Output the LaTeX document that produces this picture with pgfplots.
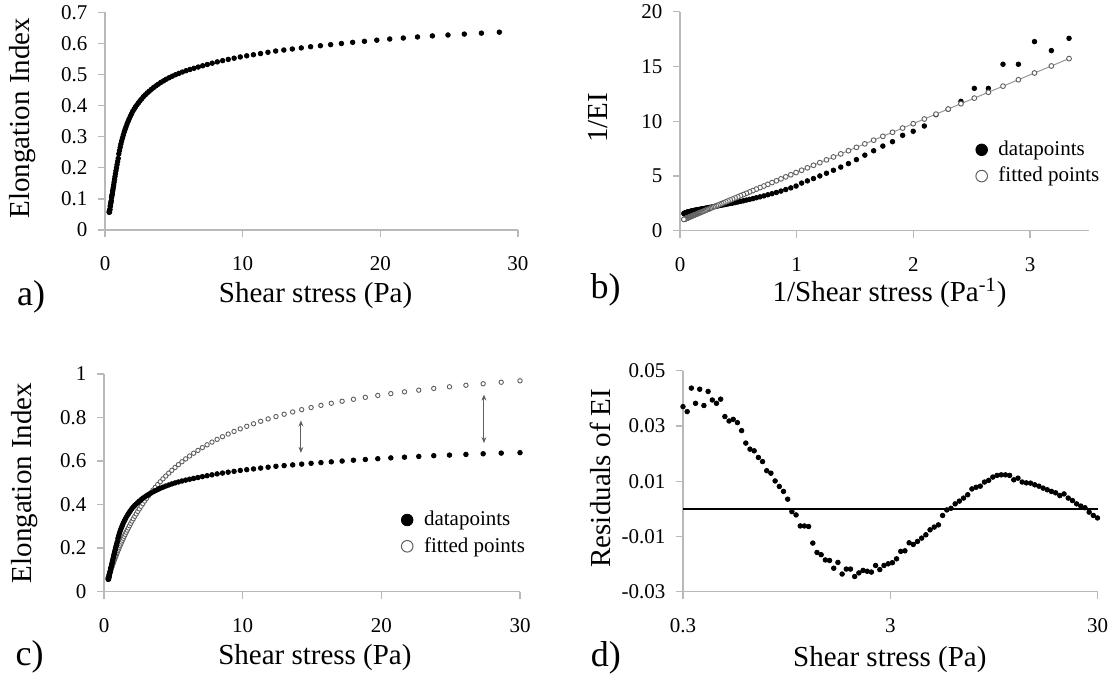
\documentclass[border=0pt]{standalone}
\usepackage{fontspec}
\setmainfont{Liberation Serif}
\usepackage{pgfplots}
\pgfplotsset{compat=1.18}
\usepackage{pgfplotstable}
\usetikzlibrary{arrows.meta}

\definecolor{axisgray}{RGB}{185,185,185}
\definecolor{fitgray}{RGB}{95,95,95}
\definecolor{linegray}{RGB}{150,150,150}

% t = shear stress, it = 1/t, ei = measured EI, iei = 1/EI,
% fit = fitted EI, ifit = 1/fitted EI, res = residuals of EI
\pgfplotstableread{
t it ei iei fit ifit res
0.3000 3.3333 0.0569 17.57 0.0636 15.718 0.0370
0.3143 3.1818 0.0608 16.45 0.0665 15.044 0.0352
0.3292 3.0373 0.0579 17.27 0.0694 14.401 0.0437
0.3449 2.8993 0.0658 15.20 0.0725 13.787 0.0382
0.3613 2.7675 0.0658 15.20 0.0758 13.200 0.0433
0.3785 2.6418 0.0769 13.00 0.0791 12.641 0.0374
0.3966 2.5217 0.0769 13.00 0.0826 12.107 0.0425
0.4154 2.4071 0.0847 11.81 0.0862 11.597 0.0394
0.4352 2.2977 0.0901 11.10 0.0900 11.110 0.0382
0.4559 2.1932 0.0943 10.60 0.0939 10.645 0.0397
0.4777 2.0934 0.1046 9.56 0.0980 10.201 0.0334
0.5004 1.9983 0.1101 9.08 0.1023 9.777 0.0318
0.5242 1.9075 0.1148 8.71 0.1067 9.373 0.0324
0.5492 1.8208 0.1230 8.13 0.1113 8.988 0.0312
0.5754 1.7380 0.1294 7.73 0.1160 8.619 0.0283
0.6028 1.6590 0.1370 7.30 0.1210 8.268 0.0238
0.6315 1.5836 0.1450 6.90 0.1261 7.932 0.0216
0.6615 1.5117 0.1540 6.49 0.1314 7.612 0.0210
0.6930 1.4430 0.1630 6.13 0.1369 7.306 0.0186
0.7260 1.3774 0.1720 5.81 0.1426 7.014 0.0171
0.7606 1.3148 0.1810 5.52 0.1485 6.736 0.0138
0.7968 1.2550 0.1905 5.25 0.1546 6.470 0.0129
0.8348 1.1979 0.2000 5.00 0.1609 6.216 0.0101
0.8745 1.1435 0.2100 4.76 0.1674 5.974 0.0081
0.9162 1.0915 0.2200 4.55 0.1742 5.742 0.0063
0.9598 1.0419 0.2300 4.35 0.1811 5.521 0.0035
1.0055 0.9945 0.2450 4.08 0.1883 5.311 -0.0010
1.0534 0.9493 0.2555 3.91 0.1957 5.109 -0.0022
1.1036 0.9061 0.2660 3.76 0.2034 4.917 -0.0062
1.1561 0.8650 0.2765 3.62 0.2112 4.734 -0.0062
1.2112 0.8256 0.2865 3.49 0.2193 4.559 -0.0064
1.2689 0.7881 0.2957 3.38 0.2277 4.392 -0.0124
1.3293 0.7523 0.3050 3.28 0.2362 4.233 -0.0158
1.3926 0.7181 0.3149 3.18 0.2450 4.081 -0.0166
1.4589 0.6854 0.3234 3.09 0.2541 3.935 -0.0185
1.5284 0.6543 0.3320 3.01 0.2634 3.797 -0.0187
1.6012 0.6245 0.3411 2.93 0.2729 3.664 -0.0215
1.6774 0.5962 0.3491 2.86 0.2826 3.538 -0.0194
1.7573 0.5691 0.3575 2.80 0.2926 3.417 -0.0236
1.8410 0.5432 0.3657 2.73 0.3028 3.302 -0.0218
1.9286 0.5185 0.3736 2.68 0.3133 3.192 -0.0218
2.0205 0.4949 0.3818 2.62 0.3239 3.087 -0.0245
2.1167 0.4724 0.3888 2.57 0.3348 2.987 -0.0232
2.2175 0.4510 0.3961 2.52 0.3458 2.892 -0.0223
2.3231 0.4305 0.4024 2.49 0.3570 2.801 -0.0226
2.4337 0.4109 0.4090 2.44 0.3685 2.714 -0.0229
2.5496 0.3922 0.4157 2.41 0.3802 2.630 -0.0205
2.6710 0.3744 0.4221 2.37 0.3920 2.551 -0.0220
2.7982 0.3574 0.4289 2.33 0.4040 2.475 -0.0205
2.9314 0.3411 0.4347 2.30 0.4161 2.403 -0.0199
3.0711 0.3256 0.4407 2.27 0.4285 2.334 -0.0195
3.2173 0.3108 0.4464 2.24 0.4409 2.268 -0.0181
3.3705 0.2967 0.4522 2.21 0.4535 2.205 -0.0154
3.5310 0.2832 0.4580 2.18 0.4662 2.145 -0.0152
3.6991 0.2703 0.4634 2.16 0.4789 2.088 -0.0123
3.8753 0.2580 0.4690 2.13 0.4919 2.033 -0.0129
4.0598 0.2463 0.4746 2.11 0.5048 1.981 -0.0118
4.2531 0.2351 0.4796 2.09 0.5179 1.931 -0.0106
4.4557 0.2244 0.4849 2.06 0.5308 1.884 -0.0094
4.6678 0.2142 0.4897 2.04 0.5440 1.838 -0.0076
4.8901 0.2045 0.4946 2.02 0.5571 1.795 -0.0066
5.1230 0.1952 0.4992 2.00 0.5702 1.754 -0.0058
5.3670 0.1863 0.5036 1.99 0.5834 1.714 -0.0024
5.6225 0.1779 0.5080 1.97 0.5964 1.677 -0.0004
5.8903 0.1698 0.5122 1.95 0.6095 1.641 0.0002
6.1708 0.1621 0.5162 1.94 0.6226 1.606 0.0018
6.4646 0.1547 0.5200 1.92 0.6356 1.573 0.0028
6.7725 0.1477 0.5240 1.91 0.6484 1.542 0.0039
7.0950 0.1409 0.5281 1.89 0.6614 1.512 0.0051
7.4328 0.1345 0.5322 1.88 0.6741 1.484 0.0072
7.7868 0.1284 0.5364 1.86 0.6866 1.456 0.0078
8.1576 0.1226 0.5406 1.85 0.6990 1.431 0.0082
8.5460 0.1170 0.5445 1.84 0.7114 1.406 0.0097
8.9530 0.1117 0.5485 1.82 0.7235 1.382 0.0103
9.3793 0.1066 0.5524 1.81 0.7356 1.359 0.0115
9.8260 0.1018 0.5564 1.80 0.7474 1.338 0.0121
10.294 0.0971 0.5601 1.79 0.7592 1.317 0.0123
10.784 0.0927 0.5635 1.77 0.7707 1.298 0.0123
11.298 0.0885 0.5673 1.76 0.7820 1.279 0.0121
11.836 0.0845 0.5714 1.75 0.7930 1.261 0.0105
12.399 0.0807 0.5755 1.74 0.8038 1.244 0.0111
12.990 0.0770 0.5787 1.73 0.8145 1.228 0.0097
13.608 0.0735 0.5820 1.72 0.8250 1.212 0.0094
14.256 0.0701 0.5855 1.71 0.8355 1.197 0.0093
14.935 0.0670 0.5892 1.70 0.8452 1.183 0.0087
15.646 0.0639 0.5925 1.69 0.8551 1.169 0.0082
16.391 0.0610 0.5960 1.68 0.8647 1.157 0.0075
17.172 0.0582 0.5996 1.67 0.8741 1.144 0.0069
17.990 0.0556 0.6034 1.66 0.8831 1.132 0.0063
18.846 0.0531 0.6068 1.65 0.8918 1.121 0.0058
19.744 0.0506 0.6104 1.64 0.9007 1.110 0.0048
20.684 0.0483 0.6141 1.63 0.9092 1.100 0.0054
21.669 0.0461 0.6173 1.62 0.9173 1.090 0.0039
22.700 0.0441 0.6207 1.61 0.9249 1.081 0.0030
23.781 0.0420 0.6242 1.60 0.9329 1.072 0.0018
24.914 0.0401 0.6270 1.595 0.9404 1.063 0.0010
26.100 0.0383 0.6300 1.587 0.9475 1.055 0.0004
27.343 0.0366 0.6330 1.580 0.9543 1.048 -0.0012
28.645 0.0349 0.6361 1.572 0.9613 1.040 -0.0024
30.000 0.0333 0.6380 1.567 0.9678 1.033 -0.0033
}\data

\tikzset{letter/.style={font=\fontsize{18}{21}\selectfont}}

\pgfplotsset{
  panel/.style={
    scale only axis,
    axis x line*=bottom, axis y line*=left,
    axis line style={draw=axisgray, line width=0.7pt},
    tick style={draw=axisgray, line width=0.7pt},
    major tick length=3.5pt,
    tick align=outside,
    minor tick num=0,
    clip=false,
    /pgf/number format/assume math mode=true,
    ticklabel style={font=\fontsize{10.5}{12.5}\selectfont},
    xticklabel style={yshift=-6.3pt},
    yticklabel style={xshift=-1.8pt},
    label style={font=\fontsize{14.5}{17}\selectfont},
    xlabel style={anchor=center},
    ylabel style={anchor=center},
    legend style={draw=none, fill=none, inner sep=0pt,
      font=\fontsize{10.5}{12.5}\selectfont,
      nodes={inner sep=1.5pt}, row sep=1.3pt, column sep=4pt},
    legend cell align=left,
  },
  dots/.style={only marks, mark=*, mark size=1.15pt,
    mark options={draw=black, fill=black}},
  rings/.style={only marks, mark=*, mark size=1.1pt,
    mark options={draw=fitgray, fill=white, line width=0.45pt}},
}

\begin{document}
\begin{tikzpicture}
\path[use as bounding box] (0,0) rectangle (554.5pt,-340.5pt);

% a) EI against shear stress
\begin{axis}[panel,
  at={(52.5pt,-6.15pt)}, anchor=north west,
  width=206.5pt, height=108.85pt,
  xmin=0, xmax=30, ymin=0, ymax=0.7,
  xtick={0,10,20,30},
  ytick={0,0.1,0.2,0.3,0.4,0.5,0.6,0.7},
  xlabel={Shear stress (Pa)},
  ylabel={Elongation Index},
  xlabel style={at={(axis description cs:0.51,-0.299)}},
  ylabel style={at={(axis description cs:-0.1985,0.514)}},
]
\addplot[dots, skip coords between index={99}{100}] table[x=t, y=ei] {\data};
\node[letter] at (axis description cs:-0.179,-0.306) {a)};
\end{axis}

% b) 1/EI against 1/shear stress
\begin{axis}[panel,
  at={(340pt,-5.85pt)}, anchor=north west,
  width=204.25pt, height=109.5pt,
  xmin=0, xmax=3.5, ymin=0, ymax=20,
  xtick={0,1,2,3},
  ytick={0,5,10,15,20},
  xlabel={1/Shear stress (Pa\textsuperscript{-1})},
  ylabel={1/EI},
  xlabel style={at={(axis description cs:0.513,-0.285)}},
  ylabel style={at={(axis description cs:-0.2007,0.515)}},
  legend style={at={(axis description cs:1.035,0.425)}, anchor=north east},
]
\addplot[dots, forget plot] table[x=it, y=iei] {\data};
\addplot[draw=linegray, line width=0.5pt, mark=*, mark size=1.2pt,
  mark options={draw=fitgray, fill=white, line width=0.45pt}, forget plot]
  table[x=it, y=ifit] {\data};
\addlegendimage{only marks, mark=*, mark size=2.9pt, mark options={draw=black, fill=black}}
\addlegendentry{datapoints}
\addlegendimage{only marks, mark=*, mark size=2.9pt, mark options={draw=fitgray, fill=white, line width=0.5pt}}
\addlegendentry{fitted points}
\node[letter] at (axis description cs:-0.182,-0.271) {b)};
\end{axis}

% c) measured and fitted EI
\begin{axis}[panel,
  at={(52pt,-186.9pt)}, anchor=north west,
  width=208pt, height=108.95pt,
  xmin=0, xmax=30, ymin=0, ymax=1,
  xtick={0,10,20,30},
  ytick={0,0.2,0.4,0.6,0.8,1},
  xlabel={Shear stress (Pa)},
  ylabel={Elongation Index},
  xlabel style={at={(axis description cs:0.507,-0.304)}},
  ylabel style={at={(axis description cs:-0.192,0.499)}},
  legend style={at={(axis description cs:1.02,0.385)}, anchor=north east},
]
\addplot[rings, forget plot] table[x=t, y=fit] {\data};
\addplot[dots, forget plot] table[x=t, y=ei] {\data};
\addlegendimage{only marks, mark=*, mark size=2.9pt, mark options={draw=black, fill=black}}
\addlegendentry{datapoints}
\addlegendimage{only marks, mark=*, mark size=2.9pt, mark options={draw=fitgray, fill=white, line width=0.5pt}}
\addlegendentry{fitted points}
\draw[fitgray, line width=0.5pt, {Stealth[length=3pt,width=2.4pt]}-{Stealth[length=3pt,width=2.4pt]}]
  (axis cs:14.2,0.637) -- (axis cs:14.2,0.786);
\draw[fitgray, line width=0.5pt, {Stealth[length=3pt,width=2.4pt]}-{Stealth[length=3pt,width=2.4pt]}]
  (axis cs:27.4,0.682) -- (axis cs:27.4,0.905);
\node[letter] at (axis description cs:-0.179,-0.298) {c)};
\end{axis}

% d) residuals of EI
\begin{axis}[panel,
  at={(341.5pt,-185.35pt)}, anchor=north west,
  width=207.25pt, height=110.5pt,
  xmode=log, xmin=0.3, xmax=30, ymin=-0.03, ymax=0.05,
  xtick={0.3,3,30}, xticklabels={0.3,3,30}, xminorticks=false,
  ytick={-0.03,-0.01,0.01,0.03,0.05},
  yticklabels={-0.03,-0.01,0.01,0.03,0.05},
  scaled y ticks=false,
  xlabel={Shear stress (Pa)},
  ylabel={Residuals of EI},
  xlabel style={at={(axis description cs:0.499,-0.309)}},
  ylabel style={at={(axis description cs:-0.200,0.514)}},
]
\addplot[black, line width=0.7pt] coordinates {(0.3,0) (30,0)};
\addplot[dots] table[x=t, y=res] {\data};
\node[letter] at (axis description cs:-0.186,-0.300) {d)};
\end{axis}
\end{tikzpicture}
\end{document}
